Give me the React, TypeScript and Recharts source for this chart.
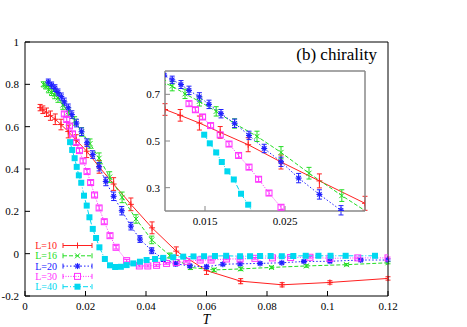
import React from "react";
import { LineChart, Line, XAxis, YAxis, ErrorBar, CartesianGrid } from "recharts";

// L=10
const L10_T = [0.005, 0.0059, 0.0071, 0.0084, 0.01, 0.0119, 0.0143, 0.0169, 0.0204, 0.0245, 0.0293, 0.035, 0.042, 0.05, 0.06, 0.0713, 0.085, 0.1008, 0.12];
const L10_CHI = [0.69, 0.68, 0.668, 0.652, 0.635, 0.61, 0.577, 0.537, 0.484, 0.41, 0.329, 0.233, 0.122, 0.012, -0.08, -0.13, -0.147, -0.136, -0.117];
const L10_ERR = [0.015, 0.018, 0.02, 0.022, 0.025, 0.025, 0.03, 0.025, 0.03, 0.03, 0.03, 0.03, 0.028, 0.02, 0.018, 0.012, 0.01, 0.008, 0.008];

// L=16
const L16_T = [0.0061, 0.0069, 0.0078, 0.0088, 0.0098, 0.0109, 0.0125, 0.0143, 0.0164, 0.0187, 0.0215, 0.0245, 0.028, 0.0321, 0.0367, 0.0419, 0.0479, 0.0547, 0.0625, 0.0713, 0.0815, 0.093, 0.1063, 0.12];
const L16_CHI = [0.8, 0.79, 0.775, 0.762, 0.75, 0.735, 0.702, 0.67, 0.627, 0.575, 0.52, 0.451, 0.362, 0.266, 0.164, 0.065, -0.009, -0.065, -0.077, -0.072, -0.065, -0.058, -0.052, -0.043];
const L16_ERR = [0.012, 0.012, 0.015, 0.015, 0.018, 0.02, 0.02, 0.02, 0.02, 0.02, 0.022, 0.025, 0.025, 0.025, 0.02, 0.018, 0.012, 0.01, 0.008, 0.008, 0.006, 0.006, 0.005, 0.005];

// L=20
const L20_T = [0.0077, 0.0088, 0.0099, 0.0109, 0.012, 0.013, 0.0143, 0.0155, 0.017, 0.0187, 0.0205, 0.0224, 0.0245, 0.0267, 0.0293, 0.032, 0.035, 0.038, 0.0419, 0.0457, 0.0498, 0.0545, 0.06, 0.0654, 0.0711, 0.0777, 0.0849, 0.0922, 0.1008, 0.111, 0.12];
const L20_CHI = [0.81, 0.796, 0.782, 0.762, 0.742, 0.717, 0.689, 0.657, 0.617, 0.576, 0.524, 0.468, 0.411, 0.341, 0.271, 0.203, 0.13, 0.069, 0.014, -0.025, -0.048, -0.058, -0.062, -0.05, -0.048, -0.046, -0.043, -0.037, -0.036, -0.03, -0.03];
const L20_ERR = [0.015, 0.015, 0.016, 0.016, 0.017, 0.018, 0.018, 0.018, 0.018, 0.018, 0.018, 0.018, 0.02, 0.02, 0.02, 0.02, 0.018, 0.016, 0.014, 0.012, 0.01, 0.008, 0.008, 0.007, 0.006, 0.006, 0.005, 0.005, 0.005, 0.005, 0.005];

// L=30
const L30_T = [0.013, 0.0138, 0.0147, 0.0157, 0.0169, 0.018, 0.0192, 0.0205, 0.0217, 0.023, 0.0245, 0.0262, 0.0281, 0.0301, 0.0336, 0.0378, 0.0406, 0.0435, 0.0468, 0.05, 0.0535, 0.0579, 0.0615, 0.0666, 0.0711, 0.076, 0.0818, 0.0878, 0.0942, 0.1008, 0.11, 0.12];
const L30_CHI = [0.66, 0.634, 0.603, 0.566, 0.526, 0.487, 0.438, 0.388, 0.336, 0.277, 0.216, 0.151, 0.085, 0.03, -0.033, -0.058, -0.058, -0.055, -0.046, -0.042, -0.036, -0.03, -0.03, -0.025, -0.025, -0.022, -0.02, -0.018, -0.017, -0.022, -0.02, -0.02];
const L30_ERR = [0.01, 0.01, 0.01, 0.01, 0.01, 0.01, 0.01, 0.01, 0.01, 0.01, 0.01, 0.01, 0.01, 0.008, 0.006, 0.005, 0.005, 0.005, 0.004, 0.004, 0.004, 0.004, 0.004, 0.004, 0.004, 0.004, 0.004, 0.004, 0.004, 0.004, 0.004, 0.004];

// L=40
const L40_T = [0.0149, 0.0156, 0.0164, 0.0171, 0.0178, 0.0186, 0.0195, 0.0204, 0.0213, 0.0224, 0.0235, 0.0246, 0.0264, 0.0281, 0.0298, 0.0317, 0.0336, 0.0358, 0.038, 0.0402, 0.043, 0.0457, 0.049, 0.0523, 0.0557, 0.0592, 0.0628, 0.0665, 0.0711, 0.0744, 0.0777, 0.0812, 0.0849, 0.0887, 0.0928, 0.097, 0.101, 0.106, 0.1157];
const L40_CHI = [0.527, 0.49, 0.451, 0.41, 0.37, 0.335, 0.274, 0.227, 0.172, 0.117, 0.074, 0.03, -0.025, -0.055, -0.063, -0.062, -0.054, -0.046, -0.038, -0.03, -0.025, -0.02, -0.017, -0.014, -0.013, -0.012, -0.011, -0.01, -0.012, -0.012, -0.011, -0.011, -0.012, -0.011, -0.01, -0.01, -0.01, -0.01, -0.01];
const L40_ERR = [0.006, 0.006, 0.006, 0.006, 0.006, 0.006, 0.006, 0.006, 0.006, 0.006, 0.006, 0.005, 0.005, 0.005, 0.004, 0.004, 0.004, 0.004, 0.004, 0.004, 0.003, 0.003, 0.003, 0.003, 0.003, 0.003, 0.003, 0.003, 0.003, 0.003, 0.003, 0.003, 0.003, 0.003, 0.003, 0.003, 0.003, 0.003, 0.003];

const X_TICKS = [0, 0.02, 0.04, 0.06, 0.08, 0.1, 0.12];
const Y_TICKS = [-0.2, 0, 0.2, 0.4, 0.6, 0.8, 1];
const INSET_X = [0.01, 0.035];
const INSET_Y = [0.2, 0.8];
const INSET_X_TICKS = [0.015, 0.025];
const INSET_Y_TICKS = [0.3, 0.5, 0.7];

type Row = { T: number; chi: number; err: number | null };

const rows = (t: number[], c: number[], e: number[]): Row[] =>
  t.map((T, i) => ({ T, chi: c[i], err: e[i] }));

const SERIES = [
  { name: "L=10", color: "#ff2020", dash: undefined, mark: "plus", data: rows(L10_T, L10_CHI, L10_ERR) },
  { name: "L=16", color: "#22dd22", dash: "4 2", mark: "cross", data: rows(L16_T, L16_CHI, L16_ERR) },
  { name: "L=20", color: "#2020ff", dash: "1.5 2", mark: "star", data: rows(L20_T, L20_CHI, L20_ERR) },
  { name: "L=30", color: "#ff30ff", dash: "1 1.5", mark: "box", data: rows(L30_T, L30_CHI, L30_ERR) },
  { name: "L=40", color: "#00d8f0", dash: "5 2 1 2", mark: "fbox", data: rows(L40_T, L40_CHI, L40_ERR) },
];

// inside the inset only the points that fall in its window keep their error bars
const insetRows = (d: Row[]) =>
  d.map((r) =>
    r.T >= INSET_X[0] && r.T <= INSET_X[1] && r.chi >= INSET_Y[0] && r.chi <= INSET_Y[1] ? r : { ...r, err: null }
  );

const FONT = "'Liberation Serif', 'Times New Roman', serif";

function Mark({ cx, cy, kind, color }: { cx: number; cy: number; kind: string; color: string }) {
  const s = 3;
  if (kind === "plus")
    return (
      <g stroke={color} strokeWidth={1}>
        <line x1={cx - s} x2={cx + s} y1={cy} y2={cy} />
        <line x1={cx} x2={cx} y1={cy - s} y2={cy + s} />
      </g>
    );
  if (kind === "cross")
    return (
      <g stroke={color} strokeWidth={1}>
        <line x1={cx - 2.5} x2={cx + 2.5} y1={cy - 2.5} y2={cy + 2.5} />
        <line x1={cx - 2.5} x2={cx + 2.5} y1={cy + 2.5} y2={cy - 2.5} />
      </g>
    );
  if (kind === "star")
    return (
      <g stroke={color} strokeWidth={1.2}>
        <line x1={cx - s} x2={cx + s} y1={cy} y2={cy} />
        <line x1={cx} x2={cx} y1={cy - s} y2={cy + s} />
        <line x1={cx - 2.2} x2={cx + 2.2} y1={cy - 2.2} y2={cy + 2.2} />
        <line x1={cx - 2.2} x2={cx + 2.2} y1={cy + 2.2} y2={cy - 2.2} />
      </g>
    );
  if (kind === "box")
    return <rect x={cx - 3} y={cy - 3} width={6} height={6} fill="none" stroke={color} strokeWidth={1} />;
  return <rect x={cx - 3} y={cy - 3} width={6} height={6} fill={color} />;
}

const dotFn = (kind: string, color: string) => (p: any) => {
  if (p.cx == null || p.cy == null) return <g key={`n${p.index}`} />;
  return (
    <g key={`d${p.index}`}>
      <Mark cx={p.cx} cy={p.cy} kind={kind} color={color} />
    </g>
  );
};

const tickStyle = { fontFamily: FONT, fontSize: 11, fill: "#000" };
const fmt = (v: number) => String(+v.toFixed(3));

function renderSeries(inset: boolean) {
  return SERIES.map((s) => (
    <Line
      key={s.name}
      xAxisId="b"
      yAxisId="l"
      data={inset ? insetRows(s.data) : s.data}
      dataKey="chi"
      type="linear"
      stroke={s.color}
      strokeWidth={1}
      strokeDasharray={s.dash}
      dot={dotFn(s.mark, s.color)}
      activeDot={false}
      isAnimationActive={false}
    >
      <ErrorBar dataKey="err" width={2.5} stroke={s.color} strokeWidth={1} direction="y" isAnimationActive={false} />
    </Line>
  ));
}

function MainChart() {
  return (
    <LineChart width={467} height={327} margin={{ top: 0, right: 0, bottom: 0, left: 0 }}>
      <XAxis
        xAxisId="b"
        dataKey="T"
        type="number"
        domain={[0, 0.12]}
        ticks={X_TICKS}
        allowDataOverflow
        height={31}
        tickSize={-5}
        tickMargin={11}
        tick={tickStyle}
        tickFormatter={fmt}
        stroke="#000"
        label={{ value: "T", position: "insideBottom", offset: 3, style: { fontFamily: FONT, fontSize: 14, fontStyle: "italic", fill: "#000" } }}
      />
      <XAxis xAxisId="t" orientation="top" type="number" domain={[0, 0.12]} ticks={X_TICKS} height={42} tickSize={-5} tick={false} stroke="#000" />
      <YAxis
        yAxisId="l"
        type="number"
        domain={[-0.2, 1]}
        ticks={Y_TICKS}
        allowDataOverflow
        width={25}
        tickSize={-5}
        tickMargin={11}
        tick={tickStyle}
        tickFormatter={fmt}
        stroke="#000"
      />
      <YAxis yAxisId="r" orientation="right" type="number" domain={[-0.2, 1]} ticks={Y_TICKS} width={79} tickSize={-5} tick={false} stroke="#000" />
      {renderSeries(false)}
    </LineChart>
  );
}

const insetAxisLine = { stroke: "#888", strokeWidth: 1.5 };

function InsetChart() {
  return (
    <LineChart width={260} height={175} margin={{ top: 0, right: 0, bottom: 0, left: 0 }}>
      <CartesianGrid xAxisId="b" yAxisId="l" horizontal={false} vertical={false} fill="#fff" fillOpacity={1} />
      <XAxis
        xAxisId="b"
        dataKey="T"
        type="number"
        domain={INSET_X}
        ticks={INSET_X_TICKS}
        allowDataOverflow
        height={24}
        tickSize={-5}
        tickMargin={11}
        tick={tickStyle}
        tickFormatter={fmt}
        stroke="#888"
        axisLine={insetAxisLine}
      />
      <XAxis xAxisId="t" orientation="top" type="number" domain={INSET_X} ticks={INSET_X_TICKS} height={11} tickSize={-5} tick={false} stroke="#888" axisLine={insetAxisLine} />
      <YAxis
        yAxisId="l"
        type="number"
        domain={INSET_Y}
        ticks={INSET_Y_TICKS}
        allowDataOverflow
        width={45}
        tickSize={-5}
        tickMargin={10}
        tick={tickStyle}
        tickFormatter={fmt}
        stroke="#888"
        axisLine={insetAxisLine}
      />
      <YAxis yAxisId="r" orientation="right" type="number" domain={INSET_Y} ticks={INSET_Y_TICKS} width={15} tickSize={-5} tick={false} stroke="#888" axisLine={insetAxisLine} />
      {renderSeries(true)}
    </LineChart>
  );
}

function Overlay() {
  return (
    <svg width={467} height={327} style={{ position: "absolute", left: 0, top: 0, pointerEvents: "none" }}>
      <text x={377} y={60} textAnchor="end" fontFamily={FONT} fontSize={17} fill="#000">
        (b) chirality
      </text>
      {SERIES.map((s, i) => {
        const y = 245.5 + i * 10.3;
        return (
          <g key={s.name}>
            <text x={57} y={y} dy="0.35em" textAnchor="end" fontFamily={FONT} fontSize={10} fill={s.color}>
              {s.name}
            </text>
            <g stroke={s.color} strokeWidth={1}>
              <line x1={63} x2={92} y1={y} y2={y} strokeDasharray={s.dash} />
              <line x1={63} x2={63} y1={y - 2.5} y2={y + 2.5} />
              <line x1={92} x2={92} y1={y - 2.5} y2={y + 2.5} />
            </g>
            <Mark cx={77.5} cy={y} kind={s.mark} color={s.color} />
          </g>
        );
      })}
    </svg>
  );
}

export default function App() {
  return (
    <div style={{ position: "absolute", left: 0, top: 0, width: 467, height: 327, background: "#fff" }}>
      <MainChart />
      <div style={{ position: "absolute", left: 120, top: 60 }}>
        <InsetChart />
      </div>
      <Overlay />
    </div>
  );
}
